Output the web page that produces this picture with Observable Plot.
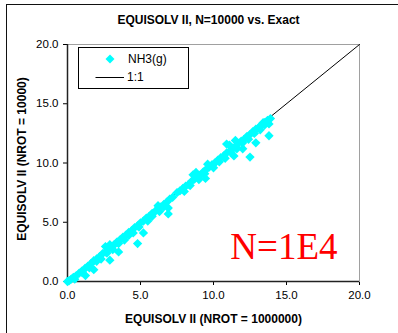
<!DOCTYPE html>
<html>
<head>
<meta charset="utf-8">
<script src="https://cdn.jsdelivr.net/npm/d3@7"></script>
<script src="https://cdn.jsdelivr.net/npm/@observablehq/plot@0.6"></script>
<style>
  html, body { margin: 0; padding: 0; background: #fff; }
  #wrap { position: relative; width: 398px; height: 333px; overflow: hidden; font-family: Arial, "Liberation Sans", sans-serif; }
  #wrap svg.chart { position: absolute; left: 0; top: 0; }
  #outer { position: absolute; left: 6px; top: 4px; width: 400px; height: 340px; border: 1px solid #111; box-sizing: border-box; pointer-events: none; }
  #legend { position: absolute; left: 78px; top: 47px; width: 111px; height: 42px; border: 1px solid #000; background: #fff; box-sizing: border-box; font-size: 12px; color: #000; }
  .li { position: absolute; left: 0; height: 14px; display: flex; align-items: center; }
</style>
</head>
<body>
<div id="wrap">
  <div id="outer"></div>
  <div id="legend"></div>
</div>
<script>
// ---- data ----
const chartTitle = "EQUISOLV II, N=10000 vs. Exact";
const xTitle = "EQUISOLV II (NROT = 1000000)";
const yTitle = "EQUISOLV II (NROT = 10000)";
const annotation = "N=1E4";
const xTicks = [0, 5, 10, 15, 20];
const yTicks = [0, 5, 10, 15, 20];
const seriesNames = ["NH3(g)", "1:1"];

// NH3(g) points
const nh3X = [
  0.0, 0.1, 0.25, 0.4, 0.6, 0.8, 1.0, 1.2, 1.4, 1.6, 1.8, 2.0, 2.2, 2.4, 2.6, 2.8, 3.0, 3.2, 3.4, 3.6,
  3.8, 4.0, 4.2, 4.4, 4.6, 4.8, 5.0, 5.2, 5.4, 5.6, 5.8, 6.0, 6.2, 6.4, 6.6, 6.8, 7.0, 7.2, 7.5, 7.7,
  7.9, 8.1, 8.3, 8.5, 8.7, 8.9, 9.1, 9.3, 9.5, 9.7, 9.9, 10.1, 10.3, 10.5, 10.7, 10.9, 11.1, 11.3, 11.5, 11.7,
  11.9, 12.1, 12.3, 12.5, 12.7, 12.9, 13.1, 13.3, 13.5, 13.7, 13.9,
  0.5, 1.5, 2.3, 3.1, 3.9, 4.5, 5.5, 6.3, 8.0, 9.0, 10.0, 10.8, 11.6, 12.4, 13.2, 13.8,
  1.0, 2.0, 2.7, 3.5, 4.2, 4.9, 5.8, 6.6, 8.4, 9.4, 10.4, 11.2, 12.0, 12.8, 13.5,
  1.23, 1.8, 2.9, 3.5, 4.8, 5.2, 6.9, 6.9, 9.45, 11.4, 12.5, 12.9, 13.8, 12.0,
  8.8, 8.6, 10.9, 11.1, 11.5, 13.4, 2.6, 2.9, 6.2, 9.6
];
const nh3Y = [
  0.0, 0.05, 0.2, 0.35, 0.5, 0.7, 0.9, 1.1, 1.3, 1.5, 1.75, 1.9, 2.1, 2.35, 2.5, 2.75, 2.95, 3.1, 3.35, 3.5,
  3.75, 3.9, 4.15, 4.3, 4.55, 4.7, 4.95, 5.1, 5.35, 5.5, 5.75, 5.9, 6.15, 6.3, 6.5, 6.7, 6.95, 7.1, 7.5, 7.65,
  7.85, 8.05, 8.2, 8.45, 8.65, 8.85, 9.0, 9.25, 9.45, 9.65, 9.85, 10.0, 10.25, 10.45, 10.6, 10.85, 11.0, 11.25, 11.4, 11.65,
  11.85, 12.0, 12.25, 12.4, 12.65, 12.85, 13.0, 13.2, 13.4, 13.6, 13.75,
  0.2, 1.15, 1.9, 2.7, 3.5, 4.1, 5.1, 5.9, 7.6, 8.6, 9.6, 10.4, 11.2, 12.0, 12.8, 13.3,
  0.75, 1.7, 2.4, 3.2, 3.9, 4.6, 5.5, 6.3, 8.1, 9.1, 10.1, 10.9, 11.7, 12.5, 13.2,
  0.5, 1.0, 1.8, 2.5, 3.2, 4.1, 5.7, 6.2, 8.7, 10.6, 10.5, 11.7, 12.3, 11.2,
  9.2, 9.0, 11.6, 11.5, 11.9, 13.4, 2.95, 3.1, 6.4, 9.9
];
// 1:1 reference line
const lineX = [0, 20];
const lineY = [0, 20];

const nh3 = nh3X.map((x, i) => ({x, y: nh3Y[i]}));
const oneToOne = lineX.map((x, i) => ({x, y: lineY[i]}));

const fmt = d => d.toFixed(1);

const chart = Plot.plot({
  width: 398,
  height: 333,
  marginLeft: 67,
  marginRight: 39,
  marginTop: 44,
  marginBottom: 52,
  style: {fontFamily: "Arial, 'Liberation Sans', sans-serif", fontSize: "11.5px", color: "#000", background: "transparent"},
  x: {domain: [0, 20], ticks: xTicks, tickFormat: fmt, tickSize: 4, tickPadding: 5, label: null},
  y: {domain: [0, 20], ticks: yTicks, tickFormat: fmt, tickSize: 4, tickPadding: 5, label: null},
  marks: [
    Plot.frame({stroke: "#a0a0a0"}),
    Plot.line(oneToOne, {x: "x", y: "y", stroke: "#000", strokeWidth: 1}),
    Plot.ruleX([0], {stroke: "#222", strokeWidth: 1.5}),
    Plot.ruleY([0], {stroke: "#222", strokeWidth: 1.5}),
    Plot.dot(nh3, {x: "x", y: "y", symbol: "diamond2", r: 4.2, fill: "#00FFFF", stroke: "none"}),
    Plot.text([chartTitle], {frameAnchor: "top", dy: -24, dx: -5, textAnchor: "middle", lineAnchor: "middle", text: d => d, fontWeight: "bold", fontSize: 12}),
    Plot.text([xTitle], {frameAnchor: "bottom", dy: 38, textAnchor: "middle", lineAnchor: "middle", text: d => d, fontWeight: "bold", fontSize: 12}),
    Plot.text([yTitle], {frameAnchor: "left", dx: -45, dy: -4, rotate: -90, textAnchor: "middle", lineAnchor: "middle", text: d => d, fontWeight: "bold", fontSize: 12}),
    Plot.text([annotation], {frameAnchor: "bottom-right", dx: -22, dy: -23, textAnchor: "end", lineAnchor: "bottom", text: d => d, fill: "#ff0000", fontSize: 37, fontFamily: "'Liberation Serif', 'Times New Roman', serif"})
  ]
});
chart.classList.add("chart");
document.getElementById("wrap").insertBefore(chart, document.getElementById("outer"));

// legend
const legend = document.getElementById("legend");
const items = [
  {name: seriesNames[0], kind: "diamond", top: 4},
  {name: seriesNames[1], kind: "line", top: 22}
];
for (const it of items) {
  const row = document.createElement("div");
  row.className = "li";
  row.style.top = it.top + "px";
  const sym = it.kind === "diamond"
    ? `<svg width="48" height="14"><path d="M31,2.5 L35.5,7 L31,11.5 L26.5,7 Z" fill="#00FFFF"/></svg>`
    : `<svg width="48" height="14"><line x1="16.5" y1="7.5" x2="45" y2="7.5" stroke="#000" stroke-width="1"/></svg>`;
  row.innerHTML = sym + `<span style="margin-left:${it.kind === "diamond" ? 1 : 0}px">${it.name}</span>`;
  legend.appendChild(row);
}
</script>
</body>
</html>
